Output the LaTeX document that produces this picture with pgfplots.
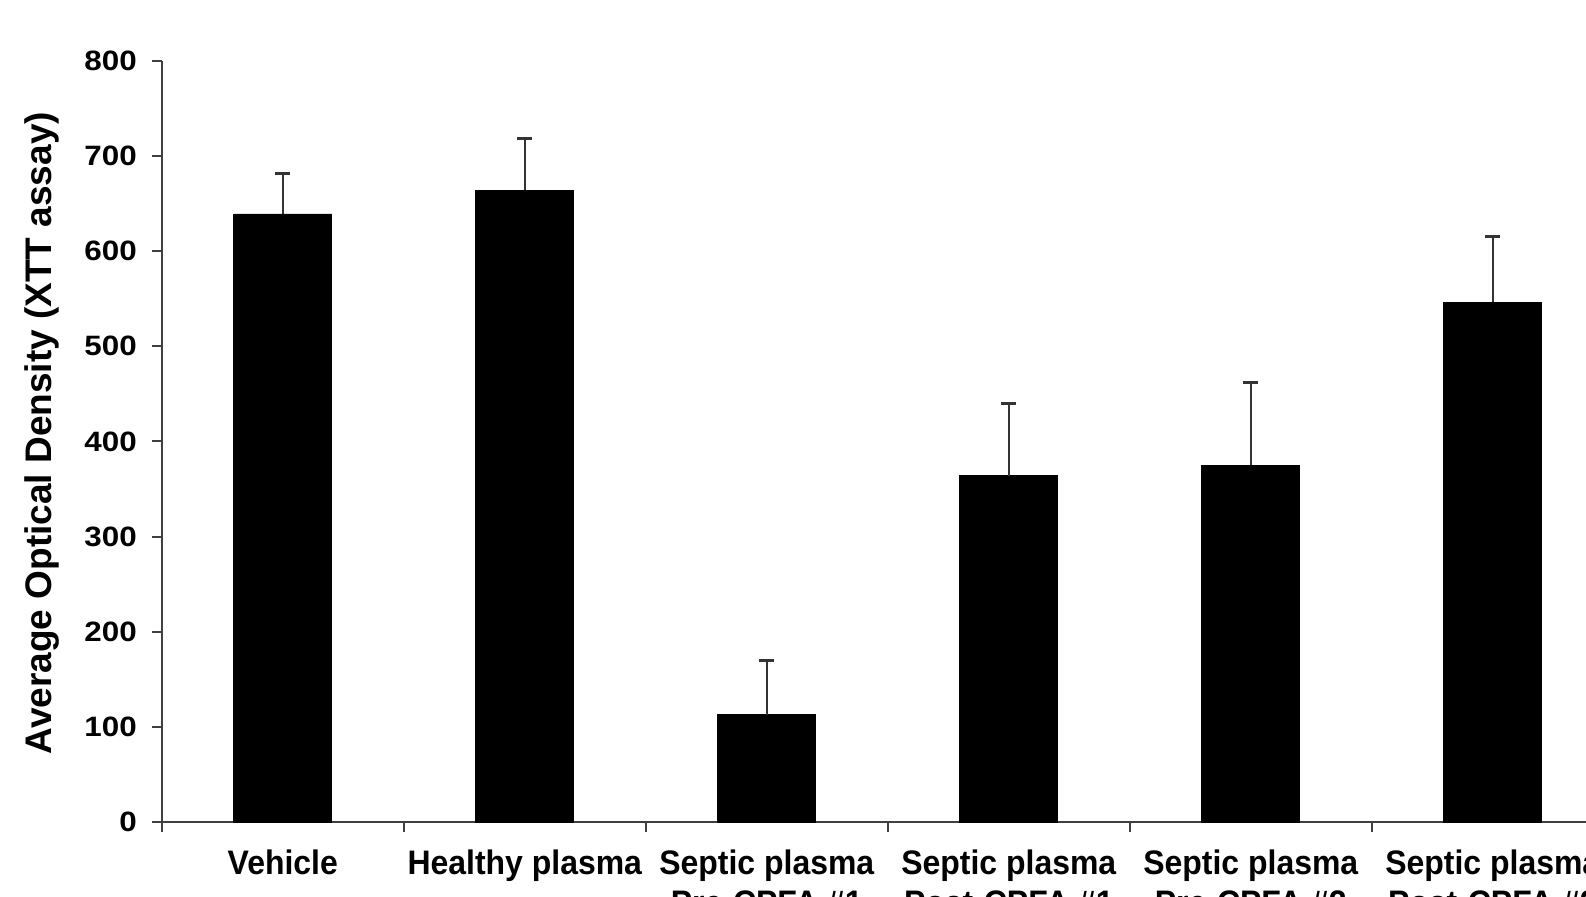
\documentclass[border=0pt]{standalone}
\usepackage{pgfplots}
\pgfplotsset{compat=1.18}
\usepackage{fontspec}
\setmainfont{Liberation Sans}
\newfontfamily\tickfont[FakeStretch=1.12]{Liberation Sans}
\newfontfamily\catfont[FakeStretch=0.94]{Liberation Sans}
\begin{document}
\begin{tikzpicture}
\path[use as bounding box, clip] (0,0) rectangle (793pt,448.5pt);
\begin{axis}[
  at={(80.9pt,37.35pt)}, anchor=south west,
  scale only axis, width=726pt, height=380.8pt,
  xmin=-0.5, xmax=5.5, ymin=0, ymax=800,
  enlargelimits=false,
  axis lines*=left,
  ytick={0,100,...,800},
  xtick={-0.5,0.5,...,5.5},
  x tick label as interval,
  xticklabels={Vehicle, Healthy plasma, {Septic plasma\\Pre-CPFA \#1}, {Septic plasma\\Post-CPFA \#1}, {Septic plasma\\Pre-CPFA \#2}, {Septic plasma\\Post-CPFA \#2}},
  tick align=outside, major tick length=5pt,
  tick style={line width=1pt, color=black!75},
  axis line style={line width=1pt, black!75},
  /pgf/number format/assume math mode=true,
  yticklabel style={font=\tickfont\fontsize{14}{16}\selectfont\bfseries, xshift=-4pt},
  xticklabel style={font=\catfont\fontsize{17}{20}\selectfont\bfseries, align=center, yshift=-5.5pt},
  ylabel={Average Optical Density (XTT assay)},
  ylabel style={font=\fontsize{18.5}{22}\selectfont\bfseries, at={(axis description cs:-0.0823,0.511)}, anchor=center},
  ybar, bar width=49pt,
]
\addplot[fill=black, draw=black,
  error bars/.cd, y dir=plus, y explicit,
  error bar style={line width=1pt, black!80},
  error mark options={rotate=90, line width=1.5pt, mark size=3.75pt, black!80}]
  table[x=x, y=y, y error=e] {
x y e
0 639 43
1 664 54
2 113 57
3 364 76
4 375 87
5 546 69
};
\end{axis}
\end{tikzpicture}
\end{document}
